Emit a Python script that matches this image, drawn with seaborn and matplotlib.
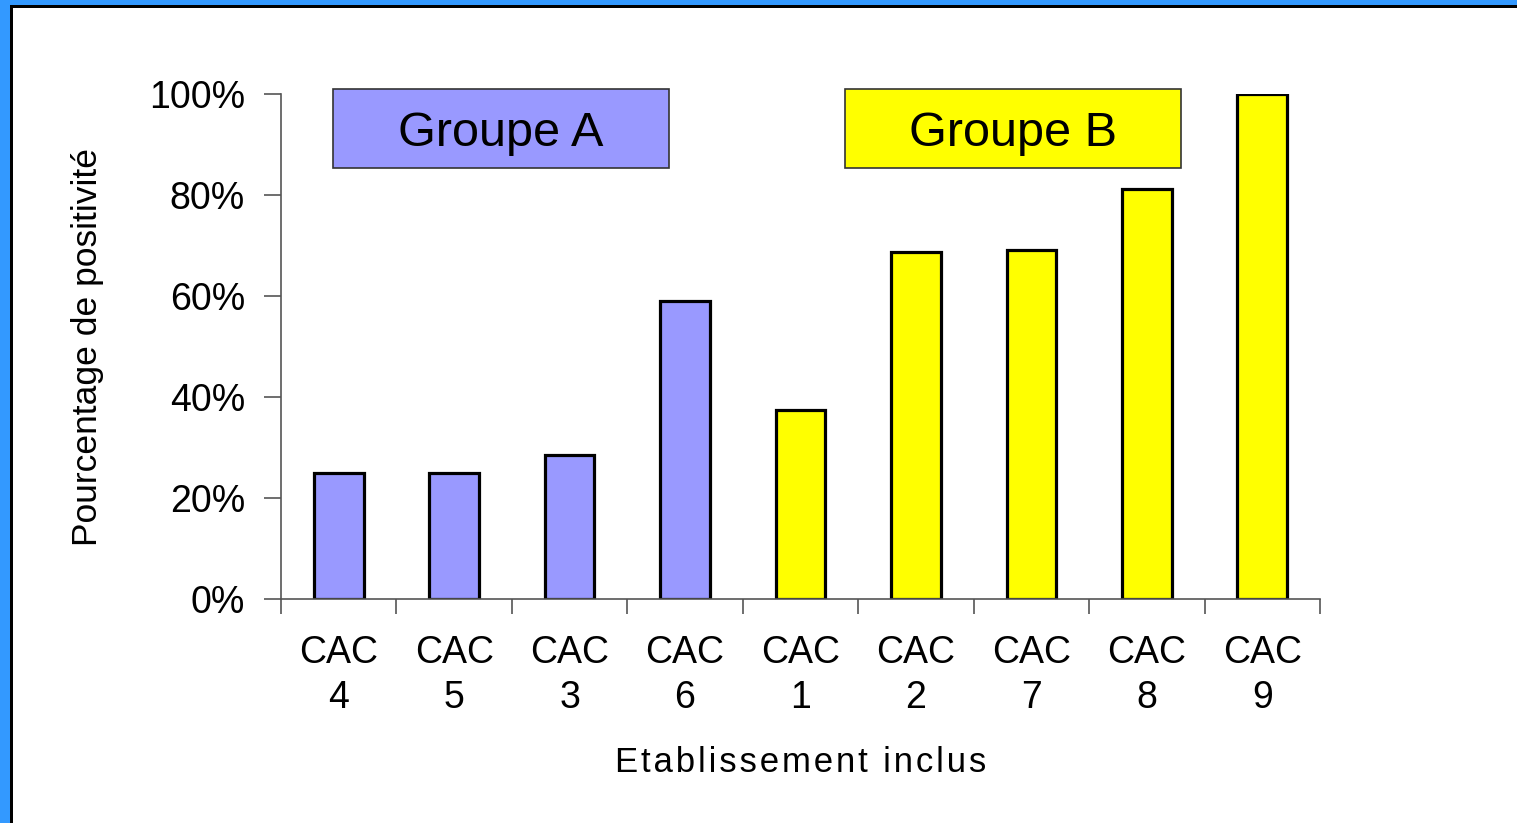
import matplotlib
matplotlib.use("Agg")
import matplotlib.pyplot as plt
import numpy as np
import pandas as pd
import seaborn as sns
from matplotlib.patches import Rectangle

# Data
etablissements = ["CAC\n4", "CAC\n5", "CAC\n3", "CAC\n6", "CAC\n1",
                  "CAC\n2", "CAC\n7", "CAC\n8", "CAC\n9"]
positivite = [25.0, 25.0, 28.6, 59.0, 37.5, 68.75, 69.2, 81.25, 100.0]
groupes = ["Groupe A"] * 4 + ["Groupe B"] * 5
couleurs = {"Groupe A": "#9999FF", "Groupe B": "#FFFF00"}

df = pd.DataFrame({
    "etablissement": etablissements,
    "positivite": positivite,
    "groupe": groupes,
})

sns.set_theme(style="white")
plt.rcParams["font.family"] = ["Liberation Sans", "DejaVu Sans"]
plt.rcParams["text.color"] = "black"
plt.rcParams["axes.labelcolor"] = "black"
plt.rcParams["xtick.color"] = "black"
plt.rcParams["ytick.color"] = "black"

fig = plt.figure(figsize=(15.17, 8.23), dpi=100)
ax = fig.add_axes([281 / 1517, 1 - 599 / 823, (1320 - 281) / 1517, (599 - 94) / 823])

sns.barplot(
    data=df, x="etablissement", y="positivite", hue="groupe",
    palette=couleurs, dodge=False, width=0.43, legend=False, saturation=1,
    edgecolor="black", linewidth=2.3, ax=ax,
)

ax.set_xlim(-0.5, len(etablissements) - 0.5)
ax.set_ylim(0, 100)
ax.set_yticks(np.arange(0, 101, 20))
ax.set_yticklabels([f"{v}%" for v in range(0, 101, 20)])

# ticks between categories, as in the original
ax.set_xticks(np.arange(-0.5, len(etablissements), 1.0), minor=True)
ax.tick_params(axis="x", which="major", length=0, pad=26, labelsize=27)
ax.tick_params(axis="x", which="minor", length=11, width=1.2, color="#555555",
               direction="out", bottom=True)
ax.tick_params(axis="y", length=12, width=1.2, color="#555555", direction="out",
               left=True, pad=14, labelsize=27)
for lbl in ax.get_xticklabels():
    lbl.set_linespacing(1.3)

for side in ["top", "right"]:
    ax.spines[side].set_visible(False)
for side in ["left", "bottom"]:
    ax.spines[side].set_color("#555555")
    ax.spines[side].set_linewidth(1.2)

# the original has widely spaced letters in the x title
xtitre = "\u200a".join("Etablissement inclus")
ax.set_xlabel(xtitre, fontsize=25, labelpad=22)
ax.set_ylabel("Pourcentage de positivité", fontsize=25.5, labelpad=32)
ax.set_facecolor("white")

# group boxes
for x0, x1, nom in [(333, 669, "Groupe A"), (845, 1181, "Groupe B")]:
    fig.patches.append(Rectangle(
        (x0 / 1517, 1 - 168 / 823), (x1 - x0) / 1517, 79 / 823,
        transform=fig.transFigure, facecolor=couleurs[nom],
        edgecolor="#333333", linewidth=1.2, zorder=5,
    ))
    fig.text((x0 + x1) / 2 / 1517, 1 - 129 / 823, nom, ha="center",
             va="center_baseline", fontsize=35, zorder=6)

# slide frame: blue band with a black inner line
fig.patches.append(Rectangle((0, 0), 10 / 1517, 1, transform=fig.transFigure,
                             facecolor="#3399FF", edgecolor="none", zorder=10))
fig.patches.append(Rectangle((0, 1 - 5 / 823), 1, 5 / 823, transform=fig.transFigure,
                             facecolor="#3399FF", edgecolor="none", zorder=10))
fig.patches.append(Rectangle((10 / 1517, 0), 3 / 1517, 1 - 5 / 823,
                             transform=fig.transFigure, facecolor="black",
                             edgecolor="none", zorder=10))
fig.patches.append(Rectangle((10 / 1517, 1 - 8 / 823), 1, 3 / 823,
                             transform=fig.transFigure, facecolor="black",
                             edgecolor="none", zorder=10))

fig.savefig("out.png", dpi=100, facecolor="white")
